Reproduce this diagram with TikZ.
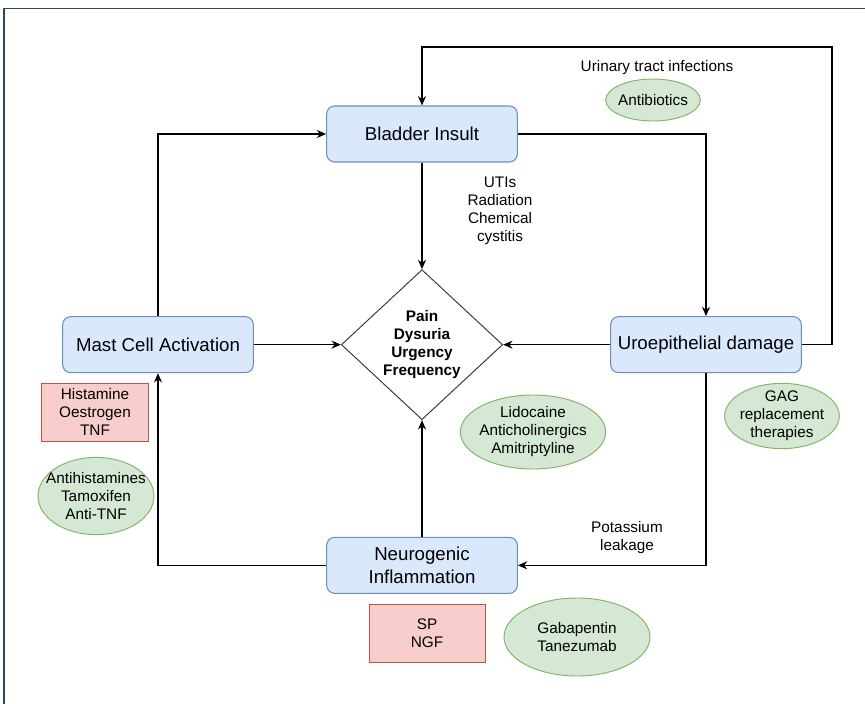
\documentclass[tikz,border=0pt]{standalone}
\usepackage{fontspec}
\setmainfont{Liberation Sans}
\usetikzlibrary{shapes.geometric,arrows.meta}
\definecolor{boxfill}{HTML}{DAE8FC}
\definecolor{boxline}{HTML}{6C8EBF}
\definecolor{drugfill}{HTML}{D5E8D4}
\definecolor{drugline}{HTML}{82B366}
\definecolor{medfill}{HTML}{F8CECC}
\definecolor{medline}{HTML}{B85450}
\definecolor{frameline}{HTML}{2E4563}
\begin{document}
\begin{tikzpicture}[x=0.75pt, y=-0.75pt, node distance=158pt, >={Stealth[length=7pt,width=6pt]}]
    \tikzstyle{comp} = [rectangle, rounded corners=6pt, draw=boxline, fill=boxfill, line width=0.8pt, inner sep=0pt, minimum width=143pt, minimum height=42pt, align=center, font=\fontsize{14}{17}\selectfont]
    \tikzstyle{sym} = [diamond, draw=black!80, fill=white, line width=0.7pt, inner sep=0pt, minimum width=121pt, minimum height=112.5pt, align=center, font=\fontsize{11.5}{13.5}\selectfont\bfseries]
    \tikzstyle{drug} = [ellipse, draw=drugline, fill=drugfill, line width=0.7pt, inner xsep=-10pt, inner ysep=-3pt, align=center, font=\fontsize{11.5}{13.5}\selectfont]
    \tikzstyle{med} = [rectangle, draw=medline, fill=medfill, line width=0.7pt, inner sep=0pt, minimum width=80pt, minimum height=43.5pt, align=center, font=\fontsize{11.5}{13.5}\selectfont]
    \tikzstyle{note} = [align=center, font=\fontsize{11.5}{13.5}\selectfont]
    \tikzstyle{link} = [->, line width=1.1pt]
    \useasboundingbox (0,0) rectangle (865,704);
    \draw [frameline, line width=1.1pt] (4,704) -- (4,8.5) -- (865,8.5);

    \node [comp] (bi) at (422,134) {Bladder Insult};
    \node [sym, below of=bi] (sym) {Pain\\Dysuria\\Urgency\\Frequency};
    \node [comp, below of=sym, yshift=-7.5pt] (ni) {Neurogenic\\Inflammation};
    \node [comp, left of=sym, xshift=-40pt] (mc) {Mast Cell Activation};
    \node [comp, right of=sym, xshift=55pt] (ud) {Uroepithelial damage};
    \coordinate (loop) at (832,47);

    \node [med] (hist) at (95,412) {Histamine\\Oestrogen\\TNF};
    \node [med, minimum width=87pt] (spngf) at (427,633) {SP\\NGF};
    \node [note] (uti) at (657,68) {Urinary tract infections};
    \node [drug, minimum width=71pt, minimum height=31.5pt] (abx) at (653,100) {Antibiotics};
    \node [note] (cause) at (500,211) {UTIs\\Radiation\\Chemical\\cystitis};
    \node [drug, minimum width=109pt, minimum height=55.5pt] (lido) at (533,432) {Lidocaine\\Anticholinergics\\Amitriptyline};
    \node [drug, minimum width=86pt, minimum height=49pt] (gag) at (782,416) {GAG\\replacement\\therapies};
    \node [drug, minimum width=87pt, minimum height=58pt] (ahist) at (96,496) {Antihistamines\\Tamoxifen\\Anti-TNF};
    \node [note] (kleak) at (627,538) {Potassium\\leakage};
    \node [drug, minimum width=109.5pt, minimum height=58.5pt] (gaba) at (577,637) {Gabapentin\\Tanezumab};

    \draw [link] (bi) -- (sym);
    \draw [link] (mc) -- (sym);
    \draw [link] (ud) -- (sym);
    \draw [link] (ni) -- (sym);
    \draw [link] (bi.east) -| (ud.north);
    \draw [link] (ud.south) |- (ni.east);
    \draw [link] (ni.west) -| (mc.south);
    \draw [link] (mc.north) |- (bi.west);
    \draw [link] (ud.east) -| (loop) -| (bi.north);
\end{tikzpicture}
\end{document}
